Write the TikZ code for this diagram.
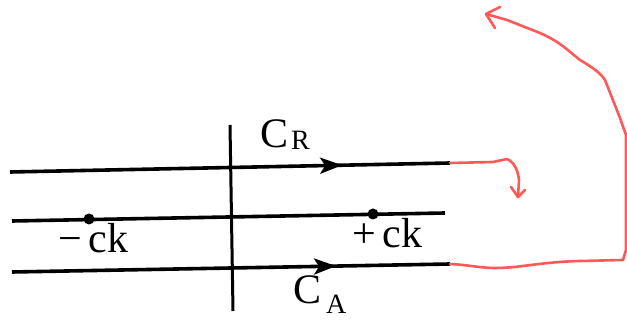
\documentclass[tikz,border=0pt]{standalone}
\usepackage{fontspec}
\setmainfont{Liberation Serif}
\newfontfamily\tms{Liberation Serif}
\usetikzlibrary{arrows.meta,decorations.markings}
\definecolor{pen}{RGB}{255,88,88}
\tikzset{
  axis/.style={line width=3.6pt,black},
  midarrow/.style={postaction={decorate},decoration={markings,mark=at position #1 with {\arrow{Stealth[length=22pt,width=16pt,inset=5pt]}}}},
  redpen/.style={pen,line width=2.6pt,line cap=round,line join=round},
  lbl/.style={inner sep=0pt,anchor=base west,font=\tms\fontsize{42}{44}\selectfont},
  sub/.style={inner sep=0pt,anchor=base west,font=\tms\fontsize{28}{30}\selectfont},
  dot/.style={circle,fill=black,inner sep=0pt,minimum size=11pt}
}
\begin{document}
\begin{tikzpicture}[x=1pt,y=-1pt]
\useasboundingbox (0,0) rectangle (627,320);
% coordinates
\coordinate (tl) at (10,172);
\coordinate (tr) at (450,163);
\coordinate (ml) at (12,221);
\coordinate (mr) at (445,213);
\coordinate (bl) at (12,272);
\coordinate (br) at (450,264);
\coordinate (vt) at (230,125);
\coordinate (vb) at (233,311);
% lines
\draw[axis,midarrow=0.755] (tl) -- (tr);
\draw[axis] (ml) -- (mr);
\draw[axis,midarrow=0.74] (bl) -- (br);
\draw[line width=3pt] (vt) -- (vb);
% dots
\node[dot] (dm) at (89,219) {};
\node[dot] (dp) at (373,214) {};
% labels
\node[lbl] (cr) at (260,148) {C};
\node[sub] (r) at (291,150) {R};
\node[lbl] (ca) at (293,304) {C};
\node[sub] (a) at (326,314) {A};
\node[lbl] (mk) at (58,253) {−\,ck};
\node[lbl] (pk) at (352,248) {+\,ck};
% red annotations
\draw[redpen] (tr) -- (493,162) -- (507,159) .. controls (514,162) and (518,170) .. (519,180) -- (518,197);
\draw[redpen] (511,187) -- (518,197) -- (525,190);
\draw[redpen] (br) .. controls (470,265) and (480,268) .. (495,268) .. controls (520,268) and (540,262) .. (580,261) -- (623,260) -- (626,250) -- (626,135) -- (620,118) -- (605,80) .. controls (600,72) and (590,66) .. (580,60) .. controls (565,48) and (560,42) .. (540,33) -- (507,20) -- (486,14);
\draw[redpen] (500,7) -- (486,14) -- (495,28);
\end{tikzpicture}
\end{document}
